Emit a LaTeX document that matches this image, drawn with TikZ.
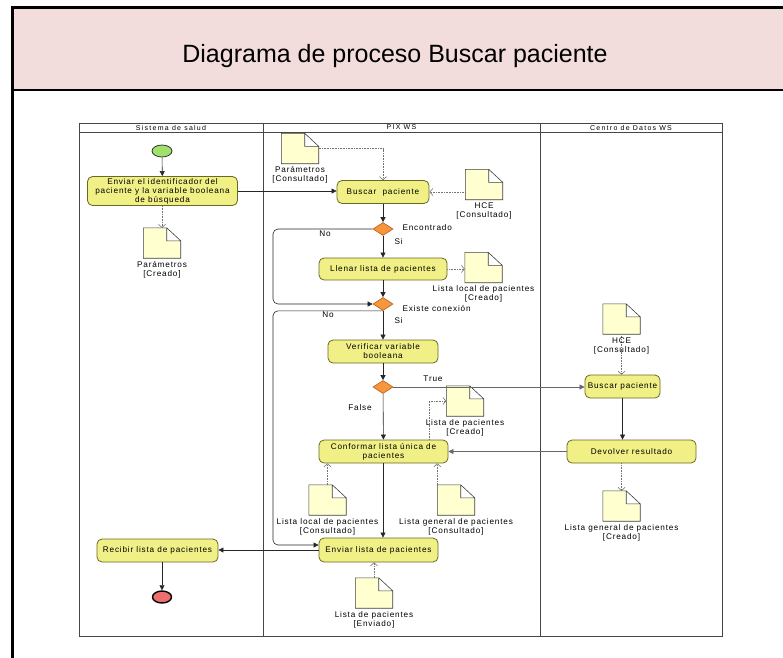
\documentclass[tikz,border=0pt]{standalone}
\usepackage{fontspec}
\setmainfont{Liberation Sans}
\newfontfamily\diagfont[LetterSpace=10]{Liberation Sans}
\newfontfamily\lanefont[LetterSpace=18]{Liberation Sans}
\usetikzlibrary{shapes.geometric,arrows.meta,positioning}
\definecolor{titlepink}{RGB}{242,221,220}
\definecolor{actfill}{RGB}{240,240,135}
\definecolor{actline}{RGB}{105,105,35}
\definecolor{docfill}{RGB}{255,255,208}
\definecolor{decfill}{RGB}{247,150,60}
\definecolor{decline}{RGB}{190,100,30}
\definecolor{startfill}{RGB}{160,225,110}
\definecolor{endfill}{RGB}{236,112,112}
\definecolor{laneline}{RGB}{70,70,70}

\begin{document}
\begin{tikzpicture}[x=1pt, y=-1pt,
	txt/.style={font=\diagfont\fontsize{8.2}{9}\selectfont},
	act/.style={txt, draw=actline, fill=actfill, line width=0.8pt, rounded corners=5pt, align=center, inner sep=0pt},
	docicon/.style={inner sep=0pt, minimum width=37pt, minimum height=30pt},
	docline/.style={draw=black!75, fill=docfill, line width=0.6pt},
	doclabel/.style={txt, align=center, inner sep=0pt},
	decision/.style={diamond, draw=decline, fill=decfill, line width=0.7pt, inner sep=0pt, minimum width=20pt, minimum height=13pt},
	flow/.style={draw=black!85, line width=0.6pt, -{Triangle[length=5pt,width=5pt]}},
	objflow/.style={draw=black!55, densely dotted, line width=0.6pt, -{Straight Barb[length=3pt,width=7pt]}}]
	\useasboundingbox (0,0) rectangle (783,657);
	\clip (0,0) rectangle (783,657);

	% marco y titulo
	\fill[titlepink] (12,7) rectangle (800,90);
	\draw[line width=3pt] (12,7) rectangle (800,700);
	\draw[line width=2.5pt] (12,90) -- (800,90);
	\node[font=\fontsize{25}{28}\selectfont] (titulo) at (395,56) {Diagrama de proceso Buscar paciente};

	% calles
	\draw[laneline, line width=0.8pt] (79,123) rectangle (722,636);
	\draw[laneline, line width=0.8pt] (79,132) -- (722,132);
	\foreach \x in {263, 540}
		\draw[laneline, line width=0.8pt] (\x,123) -- (\x,636);
	\foreach \x/\nombre in {171/Sistema de salud, 401.5/PIX WS, 631/Centro de Datos WS}
		\node[font=\lanefont\fontsize{7}{8}\selectfont, inner sep=0pt] at (\x,127.5) {\nombre};

	% Sistema de salud
	\node[ellipse, draw=black!80, fill=startfill, line width=0.8pt, minimum width=20pt, minimum height=12pt, inner sep=0pt] (inicio) at (162,151) {};
	\node[act, minimum width=150pt, minimum height=29pt] (envid) at (162.5,191) {Enviar el identificador del\\paciente y la variable booleana\\de búsqueda};
	\node[docicon] (parc) at (162,243) {};
	\node[act, minimum width=121pt, minimum height=23pt] (rec) at (157.5,550.5) {Recibir lista de pacientes};
	\node[ellipse, draw=black, fill=endfill, line width=1.4pt, minimum width=19pt, minimum height=12pt, inner sep=0pt] (fin) at (162,597) {};

	% PIX WS
	\node[act, minimum width=92pt, minimum height=23pt] (busq) at (383,192) {Buscar~~paciente};
	\node[docicon] (parcons) at (300,148.5) {};
	\node[docicon] (hce1) at (484,184.5) {};
	\node[decision] (d1) at (383,229) {};
	\node[act, minimum width=128pt, minimum height=22pt] (llenar) at (383,269) {Llenar lista de pacientes};
	\node[docicon] (listloc) at (483.5,267.5) {};
	\node[decision] (d2) at (383,304) {};
	\node[act, minimum width=110pt, minimum height=23pt] (verif) at (383,351.5) {Verificar variable\\booleana};
	\node[decision] (d3) at (383,387) {};
	\node[act, minimum width=129pt, minimum height=23pt] (conf) at (383.5,451.5) {Conformar lista única de\\pacientes};
	\node[docicon] (listcre) at (465,401) {};
	\node[docicon] (loccons) at (327.5,500) {};
	\node[docicon] (gencons) at (456,500) {};
	\node[act, minimum width=119pt, minimum height=24pt] (envl) at (378.5,550) {Enviar lista de pacientes};
	\node[docicon] (listenv) at (374,593) {};

	% Centro de Datos WS
	\node[act, minimum width=75pt, minimum height=23pt] (cbus) at (622.5,386.5) {Buscar paciente};
	\node[act, minimum width=129pt, minimum height=23pt] (dev) at (631.5,451.5) {Devolver resultado};
	\node[docicon] (hce2) at (621.5,319) {};
	\node[docicon] (gencre) at (621.5,506) {};

	% documentos
	\foreach \d in {parc, parcons, hce1, listloc, listcre, loccons, gencons, listenv, hce2, gencre}
		\draw[docline] (\d.south west) -- (\d.north west) -- ([xshift=-14pt]\d.north east) -- ([yshift=-13pt]\d.north east) -- (\d.south east) -- cycle
			([xshift=-14pt]\d.north east) |- ([yshift=-13pt]\d.north east);

	% flujo de control
	\draw[flow] (inicio) -- (envid);
	\draw[flow] (envid.east) -- (envid.east -| busq.west);
	\draw[flow] (busq) -- (d1);
	\draw[flow] (d1) -- (llenar);
	\draw[flow] (llenar) -- (d2);
	\draw[flow] (d2) -- (verif);
	\draw[flow] (verif) -- (d3);
	\draw[flow] (d3) -- (conf);
	\draw[flow] (conf.south -| d3.south) -- (d3.south |- envl.north);
	\draw[flow] (envl.west) -- (envl.west -| rec.east);
	\draw[flow] (fin.north |- rec.south) -- (fin);
	\draw[flow, rounded corners=5pt] (d1.west) -| (273,260) |- (d2.west);
	\draw[flow, rounded corners=5pt] (d2.south) -| (273,420) |- ([yshift=5pt]envl.west);
	\draw[flow, draw=black!60] (d3.east) -- (d3.east -| cbus.west);
	\draw[flow] (cbus.south) -- (cbus.south |- dev.north);
	\draw[flow, draw=black!60] (dev.west) -- (dev.west -| conf.east);

	% flujo de objetos
	\draw[objflow] (envid.south -| parc.north) -- (parc.north);
	\draw[objflow] (parcons.east) -| (busq.north);
	\draw[objflow] (hce1.west |- busq.east) -- (busq.east);
	\draw[objflow] (llenar.east) -- (llenar.east -| listloc.west);
	\draw[objflow] ([xshift=-19pt]conf.north east) |- (listcre.west);
	\draw[objflow] (loccons.north) -- (loccons.north |- conf.south);
	\draw[objflow] (gencons.north west) -- (gencons.north west |- conf.south);
	\draw[objflow] (listenv.north) -- (listenv.north |- envl.south);
	\draw[objflow] (hce2.south) -- (hce2.south |- cbus.north);
	\draw[objflow] (gencre.north |- dev.south) -- (gencre.north);

	% etiquetas de documentos
	\node[doclabel, below=3pt of parc] (parcl) {Parámetros\\{}[Creado]};
	\node[doclabel, below=3pt of parcons] (parconsl) {Parámetros\\{}[Consultado]};
	\node[doclabel, below=3pt of hce1] (hce1l) {HCE\\{}[Consultado]};
	\node[doclabel, below=3pt of listloc] (listlocl) {Lista local de pacientes\\{}[Creado]};
	\node[doclabel, below=3pt of listcre] (listcrel) {Lista de pacientes\\{}[Creado]};
	\node[doclabel, below=3pt of loccons] (locconsl) {Lista local de pacientes\\{}[Consultado]};
	\node[doclabel, below=3pt of gencons] (genconsl) {Lista general de pacientes\\{}[Consultado]};
	\node[doclabel, below=3pt of listenv] (listenvl) {Lista de pacientes\\{}[Enviado]};
	\node[doclabel, below=3pt of hce2] (hce2l) {HCE\\{}[Consultado]};
	\node[doclabel, below=3pt of gencre] (gencrel) {Lista general de pacientes\\{}[Creado]};

	% guardas
	\node[txt, anchor=west] (encl) at (399,228) {Encontrado};
	\node[txt, anchor=west] (si1) at (391,242) {Si};
	\node[txt] (no1) at (325,234) {No};
	\node[txt, anchor=west] (exil) at (399,309) {Existe conexión};
	\node[txt, anchor=west] (si2) at (391,321) {Si};
	\node[txt] (no2) at (328,315) {No};
	\node[txt] (truel) at (433,379) {True};
	\node[txt] (falsel) at (360,408) {False};
\end{tikzpicture}
\end{document}
